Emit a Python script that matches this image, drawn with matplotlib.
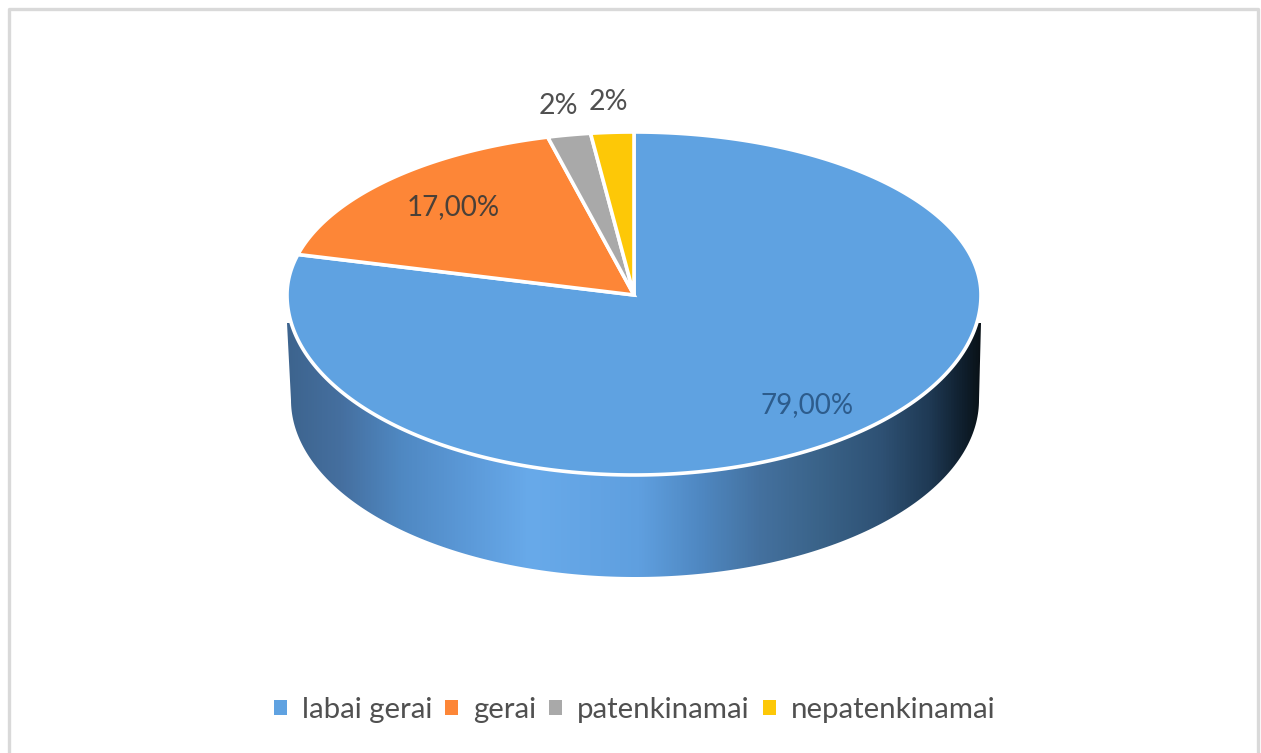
import numpy as np
import matplotlib
matplotlib.use("Agg")
import matplotlib.pyplot as plt
from matplotlib.colors import LinearSegmentedColormap
from matplotlib.patches import Patch, Polygon

categories = ["labai gerai", "gerai", "patenkinamai", "nepatenkinamai"]
values = [79, 17, 2, 2]
value_labels = ["79,00%", "17,00%", "2%", "2%"]
colors = ["#5fa2e1", "#fd8637", "#a9a9a9", "#fdc807"]

plt.rcParams["font.family"] = ["Lato", "DejaVu Sans"]

# the axes run in image pixels, y going down
fig = plt.figure(figsize=(12.61, 7.53), dpi=100, facecolor="white")
ax = fig.add_axes([0, 0, 1, 1])


def top_face(angle):
    # angle is clockwise from 12 o'clock, apex sits above the ellipse middle (perspective)
    x = 634 + 347 * np.sin(angle)
    c = np.cos(angle)
    y = 295 - np.where(c > 0, 163, 180) * c
    return x, y


# side wall, its upper part gets covered by the top face
t = np.linspace(0, np.pi, 200)
bot_x = 635 + 344 * np.cos(t)
bot_y = 400 + 177 * np.sin(t)
wall_xy = np.r_[[[981, 323]], np.c_[bot_x, bot_y], [[287, 323]]]
wall = Polygon(wall_xy, closed=True, fc="none", ec="none")
ax.add_patch(wall)

stops = [(287, "#3d648e"), (340, "#456f9f"), (400, "#4f88c2"), (470, "#5c9ad9"), (530, "#68aaea"),
         (640, "#5f9fdf"), (700, "#4f88c2"), (760, "#44719f"), (820, "#3a6389"), (880, "#2f5275"),
         (930, "#1f3a55"), (965, "#0f1e2c"), (981, "#0a1218")]
cmap = LinearSegmentedColormap.from_list("wall", [((x - 287) / (981 - 287), c) for x, c in stops])
img = ax.imshow(np.linspace(0, 1, 512)[None, :], cmap=cmap, extent=(287, 981, 577, 323),
                aspect="auto", interpolation="bilinear")
img.set_clip_path(wall)

# top face
fracs = np.cumsum([0] + values) / sum(values) * 2 * np.pi
for i in range(len(values)):
    a = np.linspace(fracs[i], fracs[i + 1], 300)
    x, y = top_face(a)
    ax.fill(np.r_[634, x], np.r_[295, y], fc=colors[i], ec="white", lw=2.6, joinstyle="miter")

# data labels
ax.text(807, 405, value_labels[0], color="#2d5c8c", fontsize=20, ha="center", va="center")
ax.text(453, 207, value_labels[1], color="#4a4038", fontsize=20, ha="center", va="center")
ax.text(558, 106, value_labels[2], color="#505050", fontsize=20.5, ha="center", va="center")
ax.text(608, 102, value_labels[3], color="#505050", fontsize=20.5, ha="center", va="center")

# chart frame, cut off by the bottom of the image
ax.plot([8.5, 8.5, 1257.5, 1257.5], [753, 8.5, 8.5, 753], color="#d9d9d9", lw=2.4)

ax.set_xlim(0, 1261)
ax.set_ylim(753, 0)
ax.axis("off")

handles = [Patch(fc=c, ec="none") for c in colors]
ax.legend(handles, categories, loc="center", bbox_to_anchor=(634.5 / 1261, 1 - 710 / 753), ncol=4,
          frameon=False, fontsize=21.2, labelcolor="#505050", handlelength=0.44, handleheight=0.44,
          handletextpad=0.5, columnspacing=0.45, borderpad=0, borderaxespad=0)

fig.savefig("out.png", dpi=100, facecolor="white")
